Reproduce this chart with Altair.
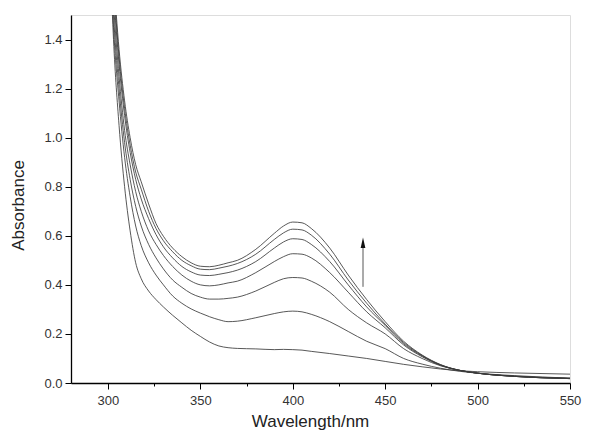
import altair as alt
import pandas as pd

wavelength = [300, 303, 306, 309, 312, 315, 318, 322, 326, 330, 335, 340, 345, 350, 355, 360,
              365, 370, 380, 390, 395, 400, 405, 410, 420, 430, 440, 450, 460, 470, 480, 490,
              500, 520, 550]

s1 = [2.0, 1.40, 1.05, 0.80, 0.62, 0.49, 0.425, 0.375, 0.34, 0.31, 0.276, 0.245, 0.215, 0.19, 0.167, 0.151,
      0.144, 0.141, 0.139, 0.136, 0.137, 0.136, 0.134, 0.129, 0.120, 0.110, 0.100, 0.088, 0.076, 0.066, 0.057, 0.050,
      0.046, 0.041, 0.036]
s2 = [2.0, 1.45, 1.15, 0.92, 0.76, 0.64, 0.56, 0.49, 0.44, 0.40, 0.355, 0.325, 0.302, 0.285, 0.27, 0.258,
      0.25, 0.252, 0.266, 0.283, 0.29, 0.293, 0.29, 0.28, 0.25, 0.21, 0.17, 0.14, 0.10, 0.077, 0.06, 0.048,
      0.04, 0.03, 0.02]
s3 = [2.0, 1.50, 1.20, 0.98, 0.83, 0.72, 0.64, 0.565, 0.51, 0.465, 0.42, 0.39, 0.365, 0.35, 0.342, 0.342,
      0.345, 0.35, 0.375, 0.41, 0.425, 0.43, 0.428, 0.415, 0.37, 0.30, 0.245, 0.20, 0.14, 0.10, 0.07, 0.052,
      0.04, 0.028, 0.02]
s4 = [2.0, 1.55, 1.25, 1.03, 0.89, 0.78, 0.70, 0.62, 0.565, 0.52, 0.475, 0.44, 0.415, 0.40, 0.396, 0.40,
      0.408, 0.415, 0.45, 0.495, 0.515, 0.527, 0.525, 0.51, 0.45, 0.37, 0.29, 0.225, 0.155, 0.107, 0.072, 0.052,
      0.04, 0.027, 0.018]
s5 = [2.0, 1.60, 1.30, 1.09, 0.94, 0.83, 0.75, 0.67, 0.605, 0.555, 0.51, 0.475, 0.453, 0.44, 0.438, 0.443,
      0.45, 0.46, 0.495, 0.55, 0.575, 0.588, 0.585, 0.565, 0.495, 0.40, 0.31, 0.235, 0.16, 0.11, 0.073, 0.052,
      0.04, 0.027, 0.018]
s6 = [2.0, 1.63, 1.33, 1.12, 0.97, 0.86, 0.79, 0.70, 0.63, 0.58, 0.535, 0.50, 0.478, 0.464, 0.462, 0.468,
      0.476, 0.487, 0.525, 0.585, 0.612, 0.627, 0.624, 0.603, 0.525, 0.42, 0.325, 0.24, 0.165, 0.112, 0.074, 0.052,
      0.04, 0.027, 0.018]
s7 = [2.0, 1.66, 1.36, 1.15, 1.00, 0.89, 0.82, 0.73, 0.65, 0.598, 0.55, 0.515, 0.49, 0.476, 0.474, 0.48,
      0.49, 0.50, 0.545, 0.61, 0.64, 0.656, 0.653, 0.63, 0.55, 0.44, 0.34, 0.25, 0.17, 0.114, 0.075, 0.052,
      0.04, 0.027, 0.018]

series = [s1, s2, s3, s4, s5, s6, s7]

arrow_x = [438]
arrow_y0 = [0.392]
arrow_y1 = [0.555]
arrow_tip = [0.572]

rows = []
for i, s in enumerate(series):
    for w, v in zip(wavelength, s):
        rows.append({"wl": w, "abs": v, "curve": f"c{i+1}"})
df = pd.DataFrame(rows)

xscale = alt.Scale(domain=[280, 550], nice=False, zero=False)
yscale = alt.Scale(domain=[0, 1.5], nice=False)

font = "Liberation Sans"

xaxis = alt.Axis(
    values=list(range(300, 551, 25)),
    format="d",
    labelExpr="datum.value % 50 == 0 ? datum.label : ''",
    tickSize={"condition": {"test": "datum.value % 50 == 0", "value": 6}, "value": 3},
    labelFontSize=13, labelFont=font, labelColor="#333", labelPadding=5,
    labelOverlap=False, labelFlush=False,
    title="Wavelength/nm", titleFont=font, titleFontSize=17, titleFontWeight="normal",
    titleColor="#222", titleX=239, titleY=43, titleAlign="center", titleBaseline="alphabetic",
    domainColor="black", domainWidth=1.3, tickColor="black", tickWidth=1, grid=False,
)
yaxis = alt.Axis(
    values=[round(i * 0.1, 1) for i in range(16)],
    format=".1f",
    labelExpr="round(datum.value * 10) % 2 == 0 ? datum.label : ''",
    tickSize={"condition": {"test": "round(datum.value * 10) % 2 == 0", "value": 6}, "value": 3},
    labelFontSize=13, labelFont=font, labelColor="#333", labelPadding=3,
    labelOverlap=False, labelFlush=False,
    title="Absorbance", titleFont=font, titleFontSize=17, titleFontWeight="normal",
    titleColor="#222", titleX=-44, titleY=190, titleAlign="center", titleAngle=-90,
    titleBaseline="bottom",
    domainColor="black", domainWidth=1.3, tickColor="black", tickWidth=1, grid=False,
)

lines = alt.Chart(df).mark_line(strokeWidth=0.85, color="#3a3a3a", clip=True, interpolate="monotone").encode(
    x=alt.X("wl:Q", scale=xscale, axis=xaxis),
    y=alt.Y("abs:Q", scale=yscale, axis=yaxis),
    detail="curve:N",
)

adf = pd.DataFrame({"x": arrow_x, "y0": arrow_y0, "y1": arrow_y1, "tip": arrow_tip})
shaft = alt.Chart(adf).mark_rule(color="#444", strokeWidth=0.9).encode(
    x=alt.X("x:Q", scale=xscale), y=alt.Y("y0:Q", scale=yscale), y2="y1:Q"
)
head = alt.Chart(adf).mark_point(
    shape="M0,-1L0.45,1L-0.45,1Z", filled=True, color="#111", size=110, opacity=1
).encode(x=alt.X("x:Q", scale=xscale), y=alt.Y("tip:Q", scale=yscale))

chart = alt.layer(lines, shaft, head).properties(
    width=499, height=368,
    autosize=alt.AutoSizeParams(type="none"),
    padding={"left": 63, "top": 7, "right": 20, "bottom": 49},
).configure_view(stroke=None).configure(background="white")

chart.save("out.html", embed_options={"renderer": "svg", "actions": False})
